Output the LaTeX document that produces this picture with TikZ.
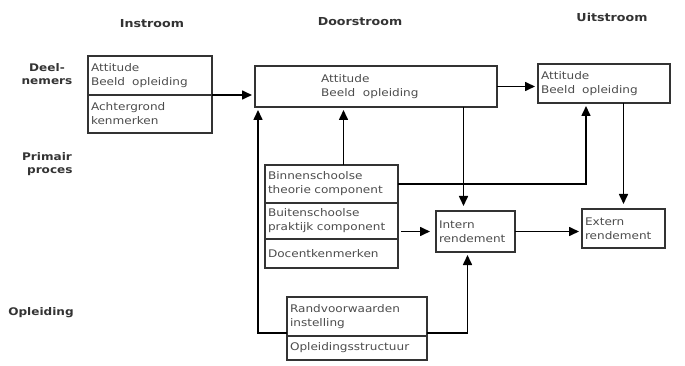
\documentclass[tikz,border=0pt]{standalone}
\usepackage{fontspec}
\setmainfont{DejaVu Sans}[FakeStretch=1.15]
\usetikzlibrary{arrows.meta,positioning}

\begin{document}
\begin{tikzpicture}[x=1pt, y=-1pt, ->, >={Triangle[length=10pt,width=9pt]}, shorten >=3pt, line width=1.6pt]
        \tikzset{
           heading/.style={
                        font=\bfseries\fontsize{11}{13}\selectfont,
                        text=black!80
                       },
           rowLabel/.style={
                        font=\bfseries\fontsize{10.5}{13}\selectfont,
                        align=center,
                        text=black!80
                       },
           cell/.style={
                        rectangle,
                        draw=black!80,
                        fill=none,
                        outer sep=0pt,
                        inner xsep=3pt,
                        anchor=north west,
                        align=left,
                        text width=#1,
                        font=\fontsize{10.5}{14}\selectfont,
                        text=black!70
                       },
           txt/.style={
                        align=left,
                        font=\fontsize{10.5}{14}\selectfont,
                        text=black!70
                       },
                 };
        \useasboundingbox (0,0) rectangle (685,366);
    %--------------------
        \node[heading]  (inHead)   at (152,24) {Instroom};
        \node[heading]  (doorHead) at (360,22) {Doorstroom};
        \node[heading]  (uitHead)  at (612,17) {Uitstroom};

        \node[rowLabel] (deelLbl)  at (47,74)  {Deel-\\nemers};
        \node[rowLabel, align=left, anchor=west] (primLbl) at (18,164) {Primair\\\hspace*{5pt}proces};
        \node[rowLabel] (oplLbl)   at (41,313) {Opleiding};

        \node[cell=118pt, minimum height=39pt] (inAtt)  at (88,56)   {Attitude\\Beeld~ opleiding};
        \node[cell=118pt, minimum height=38pt] (inAcht) [below=0pt of inAtt] {Achtergrond\\kenmerken};

        \node[cell=236pt, minimum height=41pt] (door)   at (255,66)  {};
        \node[txt, anchor=west] (doorTxt) at ([xshift=62pt]door.west) {Attitude\\Beeld~ opleiding};

        \node[cell=126pt, minimum height=39pt] (uit)    at (538,64)  {Attitude\\Beeld~ opleiding};

        \node[cell=127pt, minimum height=38pt] (binnen) at (265,165) {Binnenschoolse\\theorie component};
        \node[cell=127pt, minimum height=36pt] (buiten) [below=0pt of binnen] {Buitenschoolse\\praktijk component};
        \node[cell=127pt, minimum height=29pt] (docent) [below=0pt of buiten] {Docentkenmerken};

        \node[cell=134pt, minimum height=39pt] (rand)   at (287,297) {Randvoorwaarden\\instelling};
        \node[cell=134pt, minimum height=24pt] (struct) [below=0pt of rand] {Opleidingsstructuur};

        \node[cell=73pt, minimum height=41pt]  (intern) at (436,211) {Intern\\rendement};
        \node[cell=77pt, minimum height=39pt]  (extern) at (582,209) {Extern\\rendement};
    %--------------------
        \coordinate (binUp)   at ([xshift=12pt]binnen.north);
        \coordinate (intTop)  at ([xshift=-12pt]intern.north);
        \coordinate (uitIn)   at ([xshift=-18pt]uit.south);
        \coordinate (intBot)  at ([xshift=-8pt]intern.south);
        \coordinate (randOut) at ([yshift=3pt]rand.south east);
        \coordinate (randIn)  at ([yshift=3pt]rand.south west);
        \coordinate (doorIn)  at ([xshift=3pt]door.south west);

        \draw (inAtt.south east) -- (inAtt.south east -| door.west);
        \draw (door.east)        -- (door.east -| uit.west);
        \draw (binUp)            -- (binUp |- door.south);
        \draw[shorten >=5pt] (intTop |- door.south) -- (intTop);
        \draw (binnen.east)      -| (uitIn);
        \draw[shorten >=5pt] (uit.south -| extern.north) -- (extern.north);
        \draw[shorten <=3pt, shorten >=6pt] (buiten.east |- intern.west) -- (intern.west);
        \draw (intern.east)      -- (intern.east -| extern.west);
        \draw (randOut)          -| (intBot);
        \draw (randIn)           -- (randIn -| doorIn) -- (doorIn);
    \end{tikzpicture}
\end{document}
